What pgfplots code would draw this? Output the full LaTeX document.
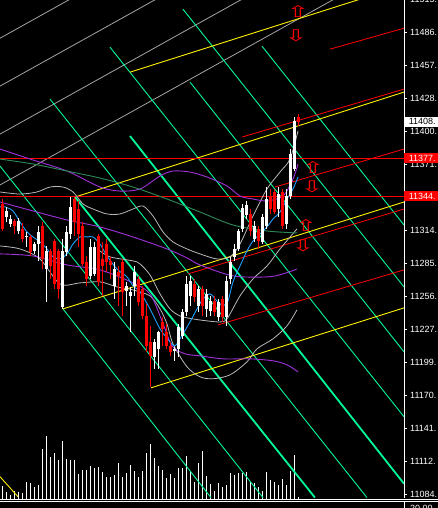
\documentclass[border=0pt]{standalone}
\usepackage{pgfplots}
\pgfplotsset{compat=1.18}
\usepackage{pgfplotstable}
\usepackage{fontspec}
\usetikzlibrary{plotmarks}
\newfontfamily\lab{Liberation Sans}
\newfontfamily\dejavu{DejaVu Sans}

\definecolor{fib}{RGB}{0,250,154}
\definecolor{fangray}{RGB}{165,165,165}
\definecolor{band}{RGB}{185,185,185}
\definecolor{orchid}{RGB}{160,50,220}
\definecolor{maBlue}{RGB}{30,160,255}
\definecolor{maGreen}{RGB}{46,139,87}

% candles: x o h l c (x in chart pixels)
\pgfplotstableread{
x o h l c
6.7 11325.8 11334.5 11321.4 11331.0
10.7 11319.7 11327.5 11317.1 11324.0
18.7 11313.6 11324.9 11311.0 11322.3
26.7 11308.4 11312.8 11299.7 11309.3
34.7 11296.3 11304.1 11293.7 11302.3
38.7 11302.3 11318.0 11287.6 11312.8
46.7 11280.6 11300.6 11252.0 11296.3
62.7 11247.7 11306.7 11245.9 11296.3
66.7 11295.4 11318.0 11291.9 11312.8
70.7 11311.0 11343.1 11306.7 11334.5
90.7 11274.6 11306.7 11272.0 11299.7
94.7 11276.3 11304.1 11274.6 11299.7
114.7 11265.9 11286.7 11254.6 11280.6
126.7 11261.5 11269.4 11248.5 11265.9
130.7 11257.2 11265.0 11226.0 11260.7
134.7 11265.9 11283.2 11257.2 11278.0
154.7 11204.3 11219.9 11193.8 11217.3
158.7 11211.2 11226.8 11193.8 11226.0
174.7 11209.5 11212.9 11200.8 11211.2
178.7 11211.2 11232.9 11204.3 11230.3
182.7 11222.5 11245.9 11219.9 11243.3
186.7 11243.3 11274.6 11239.8 11267.6
190.7 11257.2 11274.6 11248.5 11270.2
198.7 11248.5 11265.9 11243.3 11263.3
206.7 11245.9 11263.3 11239.0 11258.9
210.7 11244.2 11257.2 11239.8 11252.9
218.7 11239.0 11254.6 11235.5 11252.0
226.7 11239.0 11274.6 11231.2 11270.2
230.7 11272.0 11291.1 11267.6 11286.7
234.7 11291.1 11302.3 11287.6 11298.0
238.7 11298.0 11315.4 11296.3 11313.6
242.7 11315.4 11337.1 11312.8 11333.6
246.7 11327.5 11339.7 11324.0 11336.2
254.7 11306.7 11322.3 11304.1 11318.0
262.7 11304.1 11328.4 11302.3 11325.8
266.7 11318.0 11351.8 11315.4 11341.4
278.7 11332.7 11351.8 11325.8 11345.7
286.7 11319.7 11350.1 11315.4 11344.0
290.7 11344.0 11384.8 11341.4 11380.5
294.7 11367.4 11412.6 11365.7 11409.1
}\upcandles

\pgfplotstableread{
x o h l c
2.7 11337.1 11341.4 11313.6 11315.4
14.7 11322.3 11324.0 11311.0 11318.0
22.7 11315.4 11320.6 11304.1 11306.7
30.7 11308.4 11310.2 11291.9 11295.4
42.7 11318.0 11321.4 11280.6 11289.3
50.7 11296.3 11298.0 11272.0 11283.2
54.7 11304.9 11306.7 11263.3 11267.6
58.7 11296.3 11298.0 11254.6 11263.3
74.7 11341.4 11344.0 11309.3 11321.4
78.7 11332.7 11339.7 11299.7 11311.0
82.7 11318.0 11321.4 11283.2 11285.0
86.7 11286.7 11291.9 11265.9 11272.0
98.7 11309.3 11311.0 11265.9 11269.4
102.7 11289.3 11304.1 11257.2 11283.2
106.7 11302.3 11306.7 11278.0 11286.7
110.7 11287.6 11291.1 11272.0 11284.1
118.7 11278.0 11283.2 11248.5 11274.6
122.7 11286.7 11289.3 11239.8 11260.7
138.7 11272.0 11274.6 11248.5 11252.0
142.7 11263.3 11265.9 11237.2 11239.8
146.7 11239.8 11250.3 11208.6 11213.8
150.7 11217.3 11231.2 11178.2 11205.1
162.7 11234.6 11239.0 11213.8 11228.6
166.7 11226.0 11232.9 11211.2 11213.8
170.7 11213.8 11217.3 11205.1 11208.6
194.7 11267.6 11272.0 11252.0 11256.3
202.7 11263.3 11265.9 11239.8 11248.5
214.7 11252.9 11257.2 11239.8 11243.3
222.7 11254.6 11257.2 11234.6 11239.0
250.7 11328.4 11332.7 11309.3 11313.6
258.7 11315.4 11318.0 11298.0 11304.9
270.7 11344.0 11350.1 11328.4 11332.7
274.7 11347.5 11350.1 11328.4 11330.1
282.7 11347.5 11350.1 11315.4 11318.0
298.7 11412.6 11415.2 11404.8 11408.5
}\downcandles

\pgfplotstableread{
x v
2.7 13
6.7 7
10.7 4
14.7 8
18.7 7
22.7 6
26.7 17
30.7 16
34.7 12
38.7 14
42.7 50
46.7 63
50.7 42
54.7 46
58.7 39
62.7 58
66.7 40
70.7 39
74.7 39
78.7 25
82.7 29
86.7 29
90.7 33
94.7 31
98.7 32
102.7 27
106.7 22
110.7 22
114.7 24
118.7 36
122.7 22
126.7 26
130.7 34
134.7 28
138.7 22
142.7 28
146.7 46
150.7 55
154.7 41
158.7 33
162.7 29
166.7 21
170.7 25
174.7 21
178.7 31
182.7 31
186.7 43
190.7 27
194.7 17
198.7 36
202.7 48
206.7 23
210.7 15
214.7 8
218.7 16
222.7 12
226.7 14
230.7 26
234.7 24
238.7 26
242.7 26
246.7 27
250.7 17
254.7 16
258.7 12
262.7 8
266.7 27
270.7 19
274.7 17
278.7 14
282.7 20
286.7 14
290.7 28
294.7 44
298.7 2
}\volume

\begin{document}
\begin{tikzpicture}[x=1pt,y=1pt]
\useasboundingbox (0,0) rectangle (438,508);
\fill[black] (0,0) rectangle (438,508);

% volume histogram
\begin{axis}[at={(0,9)}, anchor=south west,
  width=404pt, height=499pt, scale only axis,
  xmin=0, xmax=404, ymin=0, ymax=499, hide axis]
  \addplot[ycomb, white, line width=1pt, mark=none] table[x=x, y=v] {\volume};
\end{axis}

\begin{axis}[at={(0,9)}, anchor=south west,
  width=404pt, height=499pt, scale only axis,
  xmin=0, xmax=404, ymin=11081.9, ymax=11515.5,
  hide x axis,
  axis y line*=right,
  y axis line style={white, line width=0.8pt},
  ytick={11084.3,11113.0,11141.7,11170.5,11199.2,11227.9,11256.6,11285.3,11314.1,11342.8,11371.5,11400.2,11428.9,11457.7,11486.4,11515.1},
  yticklabels={11084.,11112.,11141.,11170.,11199.,11227.,11256.,11285.,11314.,11342.,11371.,11400.,11428.,11457.,11486.,11515.},
  tick align=outside, major tick length=3pt,
  ytick style={white, line width=0.8pt},
  yticklabel style={font=\fontsize{9}{10}\lab, text=white, anchor=west, inner sep=0pt, xshift=3pt},
  clip mode=individual,
]
% gray fan lines
\addplot[fangray, line width=0.8pt] coordinates {(0,11481.1) (70,11515)};
\addplot[fangray, line width=0.8pt] coordinates {(0,11439.5) (156,11515)};
\addplot[fangray, line width=0.8pt] coordinates {(0,11397.8) (242,11515)};
\addplot[fangray, line width=0.8pt] coordinates {(0,11353.6) (334,11515)};

% green time lines
\addplot[fib, line width=0.9pt] coordinates {(63,11245.9) (211,11081.9)};
\addplot[fib, line width=0.9pt] coordinates {(0,11370.0) (263,11081.9)};
\addplot[fib, line width=1.8pt] coordinates {(75,11343.1) (315,11081.9)};
\addplot[fib, line width=0.9pt] coordinates {(50,11428.2) (367,11081.9)};
\addplot[fib, line width=1.8pt] coordinates {(130,11396.1) (404,11094.0)};
\addplot[fib, line width=0.9pt] coordinates {(110,11473.3) (404,11152.2)};
\addplot[fib, line width=0.9pt] coordinates {(190,11443.0) (404,11208.6)};
\addplot[fib, line width=0.9pt] coordinates {(183,11506.3) (404,11265.0)};
\addplot[fib, line width=0.9pt] coordinates {(262,11474.2) (404,11318.8)};

% yellow channel lines
\addplot[yellow, line width=0.9pt] coordinates {(130,11451.6) (360,11515)};
\addplot[yellow, line width=0.9pt] coordinates {(75,11343.1) (404,11434.3)};
\addplot[yellow, line width=0.9pt] coordinates {(63,11245.9) (404,11338.8)};
\addplot[yellow, line width=0.9pt] coordinates {(151,11177.3) (404,11246.8)};
\addplot[yellow, line width=0.9pt] coordinates {(0,11100.1) (18,11082.7)};

% red channel lines
\addplot[red, line width=0.8pt] coordinates {(218,11232.0) (404,11279.8)};
\addplot[red, line width=0.8pt] coordinates {(188,11276.3) (404,11332.7)};
\addplot[red, line width=0.8pt] coordinates {(275,11351.8) (404,11384.8)};
\addplot[red, line width=0.8pt] coordinates {(242,11395.2) (404,11436.9)};
\addplot[red, line width=0.8pt] coordinates {(330,11471.6) (404,11489.8)};
\addplot[red, line width=0.7pt] coordinates {(0,11377) (404,11377)};
\addplot[red, line width=0.7pt] coordinates {(0,11344) (404,11344)};

% envelopes / bands
\addplot[band, line width=0.8pt, smooth] coordinates {(0,11347.5) (20,11345.7) (37,11347.5) (50,11351.8) (63,11351.8) (73,11347.5) (83,11337.1) (93,11332.7) (107,11328.4) (120,11328.4) (133,11332.7) (143,11335.3) (153,11326.6) (163,11312.8) (173,11304.1) (187,11298.0) (200,11293.7) (217,11289.3) (230,11291.1) (240,11302.3) (253,11326.6) (267,11350.1) (280,11364.8) (290,11376.1) (298,11400.4)};
\addplot[band, line width=0.8pt, smooth] coordinates {(100,11296.3) (110,11291.1) (133,11287.6) (140,11285.0) (150,11275.4) (160,11258.9) (170,11245.9) (180,11239.8) (193,11237.2) (207,11235.5) (220,11234.6) (227,11237.2) (240,11257.2) (253,11272.0) (267,11283.2) (280,11298.0) (297,11315.4)};
\addplot[band, line width=0.8pt, smooth] coordinates {(0,11300.6) (20,11298.0) (40,11289.3) (60,11267.6) (80,11268.5) (100,11269.4) (117,11265.0) (133,11262.4) (150,11257.2) (160,11245.9) (167,11232.9) (173,11215.5) (187,11195.6) (200,11186.9) (213,11185.2) (230,11188.6) (247,11199.9) (257,11211.2) (273,11219.9) (287,11231.2) (297,11245.1)};
\addplot[orchid, line width=0.9pt, smooth] coordinates {(0,11384.8) (33,11375.3) (67,11365.7) (100,11351.8) (120,11348.3) (140,11350.1) (160,11361.4) (173,11365.7) (190,11364.8) (207,11360.5) (227,11352.7) (240,11344.0) (253,11341.4) (267,11339.7) (283,11344.0) (293,11358.8) (298,11371.8)};
\addplot[orchid, line width=0.9pt, smooth] coordinates {(0,11338.8) (33,11331.0) (67,11323.2) (100,11317.1) (133,11308.4) (167,11298.0) (187,11290.2) (200,11284.1) (233,11274.6) (267,11273.7) (283,11276.3) (297,11280.6)};
\addplot[orchid, line width=0.9pt, smooth] coordinates {(0,11293.7) (33,11291.9) (67,11284.1) (100,11279.8) (133,11268.5) (150,11258.9) (162,11235.5) (172,11213.8) (185,11206.9) (200,11205.1) (223,11202.5) (250,11202.5) (273,11200.8) (287,11197.3) (298,11191.2)};
\addplot[maGreen, line width=0.9pt, smooth] coordinates {(0,11376.1) (33,11371.8) (67,11365.7) (100,11359.6) (133,11351.8) (167,11341.4) (200,11330.1) (233,11318.8) (267,11313.6) (297,11311.9)};
\addplot[maBlue, line width=0.9pt, smooth] coordinates {(0,11334.5) (5,11334.5) (13,11331.0) (20,11321.4) (27,11312.8) (33,11308.4) (40,11304.1) (47,11298.0) (53,11291.1) (60,11289.3) (67,11293.7) (73,11302.3) (80,11308.4) (87,11308.4) (93,11308.4) (100,11302.3) (107,11291.9) (117,11280.6) (127,11273.7) (133,11265.9) (140,11260.7) (150,11245.9) (160,11228.6) (170,11217.3) (175,11213.8) (180,11219.9) (190,11234.6) (197,11245.9) (203,11254.6) (210,11258.9) (215,11254.6) (220,11250.3) (223,11248.5) (228,11252.9) (233,11269.4) (240,11283.2) (247,11296.3) (253,11304.9) (260,11311.0) (267,11317.1) (273,11324.0) (280,11330.1) (287,11341.4) (293,11350.1) (298,11360.5)};

% candles: wicks then bodies
\addplot[mark=none, draw=none, error bars/.cd, y dir=plus, y explicit, error mark=none,
  error bar style={draw=white, line width=1pt}]
  table[x=x, y=l, y error plus expr=\thisrow{h}-\thisrow{l}] {\upcandles};
\addplot[mark=none, draw=none, error bars/.cd, y dir=plus, y explicit, error mark=none,
  error bar style={draw=white, line width=3pt}]
  table[x=x, y=o, y error plus expr=\thisrow{c}-\thisrow{o}] {\upcandles};
\addplot[mark=none, draw=none, error bars/.cd, y dir=plus, y explicit, error mark=none,
  error bar style={draw=red, line width=1pt}]
  table[x=x, y=l, y error plus expr=\thisrow{h}-\thisrow{l}] {\downcandles};
\addplot[mark=none, draw=none, error bars/.cd, y dir=plus, y explicit, error mark=none,
  error bar style={draw=red, line width=3pt}]
  table[x=x, y=c, y error plus expr=\thisrow{o}-\thisrow{c}] {\downcandles};

% signal arrows
\addplot[only marks, mark=text, text mark={⇧}, text mark as node=true,
  text mark style={font=\fontsize{16}{16}\dejavu, text=red, inner sep=0pt, xscale=1.7, transform shape}]
  coordinates {(298,11504.6) (313,11369.2) (306,11318.0)};
\addplot[only marks, mark=text, text mark={⇩}, text mark as node=true,
  text mark style={font=\fontsize{16}{16}\dejavu, text=red, inner sep=0pt, xscale=1.7, transform shape}]
  coordinates {(296,11482.9) (312,11351.8) (303,11300.6)};

% price boxes
\node[anchor=west, fill=white, text=black, font=\fontsize{9}{10}\lab, inner xsep=3pt, inner ysep=1pt, minimum width=36pt, minimum height=10pt] at (axis cs:404,11408.5) {11408.};
\node[anchor=west, fill=red, text=white, font=\fontsize{9}{10}\lab, inner xsep=3pt, inner ysep=1pt, minimum width=36pt, minimum height=10pt] at (axis cs:404,11377) {11377.};
\node[anchor=west, fill=red, text=white, font=\fontsize{9}{10}\lab, inner xsep=3pt, inner ysep=1pt, minimum width=36pt, minimum height=10pt] at (axis cs:404,11344) {11344.};
\end{axis}

% bottom indicator window frame
\draw[white, line width=1pt] (0,8.5) -- (438,8.5);
\draw[white, line width=1pt] (0,6) -- (438,6);
\draw[white, line width=0.8pt] (404,6) -- (404,0);
\node[anchor=north west, inner sep=0pt, text=white, font=\fontsize{9}{10}\lab] at (410,3) {20.00};
\end{tikzpicture}
\end{document}
